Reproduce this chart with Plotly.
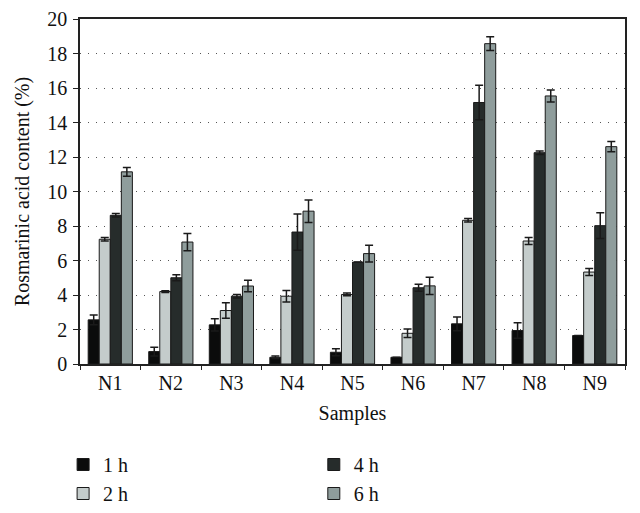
import plotly.graph_objects as go

samples = ["N1", "N2", "N3", "N4", "N5", "N6", "N7", "N8", "N9"]
series_names = ["1 h", "2 h", "4 h", "6 h"]
vals_1h = [2.56, 0.72, 2.27, 0.39, 0.68, 0.39, 2.33, 1.94, 1.65]
vals_2h = [7.23, 4.20, 3.10, 3.93, 4.03, 1.78, 8.33, 7.13, 5.33]
vals_4h = [8.62, 5.00, 3.93, 7.65, 5.91, 4.42, 15.16, 12.25, 8.02]
vals_6h = [11.14, 7.07, 4.52, 8.86, 6.40, 4.53, 18.57, 15.54, 12.60]
err_1h = [0.28, 0.25, 0.35, 0.07, 0.20, 0.0, 0.40, 0.45, 0.0]
err_2h = [0.10, 0.05, 0.45, 0.33, 0.08, 0.25, 0.10, 0.20, 0.20]
err_4h = [0.10, 0.18, 0.10, 1.05, 0.0, 0.20, 1.00, 0.10, 0.75]
err_6h = [0.25, 0.50, 0.33, 0.65, 0.48, 0.50, 0.40, 0.35, 0.30]

colors = ["#0b0c0c", "#c4cccb", "#262c2b", "#8f9d9c"]
all_vals = [vals_1h, vals_2h, vals_4h, vals_6h]
all_errs = [err_1h, err_2h, err_4h, err_6h]
legend_ids = ["legend2", "legend2", "legend3", "legend3"]

FONT = "Liberation Serif, DejaVu Serif, serif"

fig = go.Figure()
for name, v, e, c, lg in zip(series_names, all_vals, all_errs, colors, legend_ids):
    fig.add_trace(go.Bar(
        x=samples, y=v, name=name, legend=lg,
        marker=dict(color=c, line=dict(color="#1a1a1a", width=1)),
        error_y=dict(type="data", array=e, visible=True, color="#1a1a1a",
                     thickness=1.5, width=4),
    ))

leg_common = dict(font=dict(family=FONT, size=20, color="#111"),
                  bgcolor="rgba(0,0,0,0)", xanchor="left", yanchor="top",
                  orientation="v", itemwidth=30, tracegroupgap=0)
y_leg = -81 / 345
fig.update_layout(
    width=640, height=513,
    margin=dict(l=72, r=23, t=11, b=157, autoexpand=False),
    paper_bgcolor="white", plot_bgcolor="white",
    barmode="group", bargap=0.27, bargroupgap=0,
    font=dict(family=FONT, size=20, color="#111"),
    showlegend=True,
    legend2=dict(x=-0.031, y=y_leg, **leg_common),
    legend3=dict(x=0.429, y=y_leg, **leg_common),
    xaxis=dict(
        title=dict(text="Samples", font=dict(family=FONT, size=20), standoff=13),
        showline=True, linecolor="#222", linewidth=1.5, mirror=True,
        ticks="outside", tickson="boundaries", ticklen=4, tickcolor="#222",
        tickfont=dict(family=FONT, size=20), automargin=False,
    ),
    yaxis=dict(
        title=dict(text="Rosmarinic acid content (%)", font=dict(family=FONT, size=20), standoff=12),
        range=[0, 20], dtick=2,
        showline=True, linecolor="#222", linewidth=1.5, mirror=True,
        ticks="outside", ticklen=5, tickcolor="#222",
        tickfont=dict(family=FONT, size=20), automargin=False,
        ticklabelstandoff=2,
        showgrid=True, gridcolor="#555", griddash="1px,7px", gridwidth=1.2,
        zeroline=False,
    ),
)

fig.write_html("out.html")
